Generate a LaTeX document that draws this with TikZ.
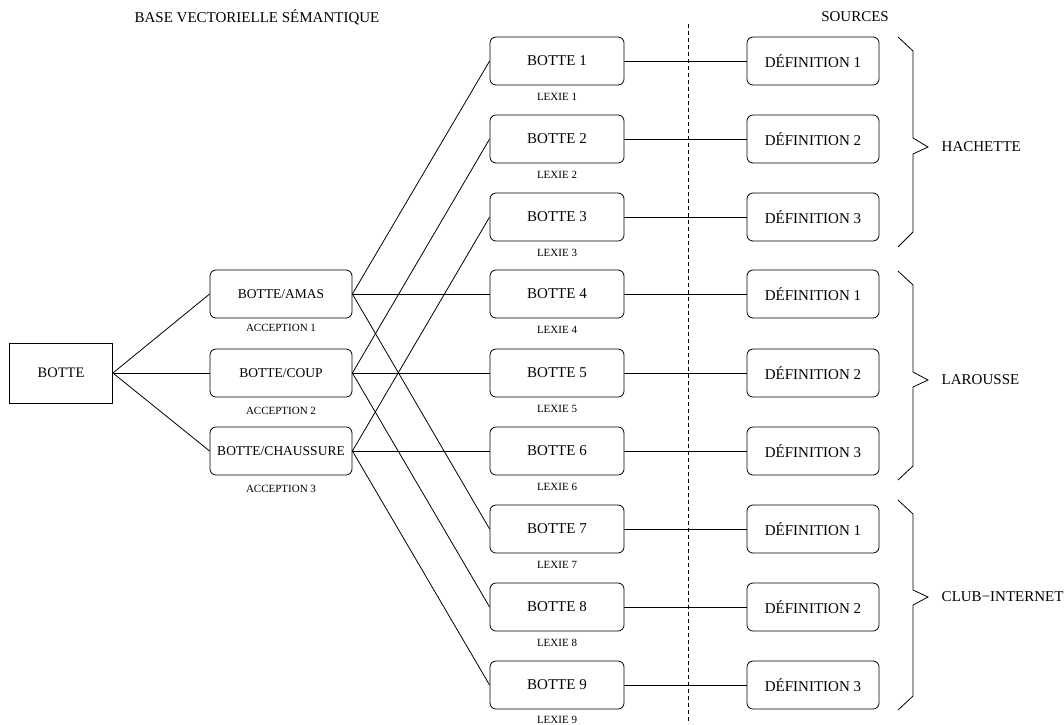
\documentclass[tikz,border=0pt]{standalone}
\usepackage{fontspec}
\setmainfont{Liberation Serif}
\usetikzlibrary{positioning}

\begin{document}
\begin{tikzpicture}[x=1pt, y=-1pt, line width=0.8pt,
	rootbox/.style={draw, minimum width=103pt, minimum height=60pt, font=\fontsize{14.5}{16}\selectfont},
	accbox/.style={draw, rounded corners=6pt, minimum width=142pt, minimum height=48pt, font=\fontsize{13.5}{15}\selectfont},
	lexbox/.style={draw, rounded corners=6pt, minimum width=134pt, minimum height=48pt, font=\fontsize{15}{17}\selectfont},
	defbox/.style={draw, rounded corners=6pt, minimum width=132pt, minimum height=48pt, font=\fontsize{15}{17}\selectfont},
	lab/.style={inner sep=2pt, font=\fontsize{11}{12}\selectfont},
	head/.style={font=\fontsize{15}{17}\selectfont},
	brace/.style={line width=0.8pt, line join=miter}]
			%%%%% START %%%%%
			\useasboundingbox (0, 0) rectangle (1064, 724);
			
			\node[head] (tbase) at (257, 17) {BASE VECTORIELLE SÉMANTIQUE};
			\node[head] (tsrc) at (855, 17) {SOURCES};
			
			\draw[dash pattern=on 4pt off 3pt] (688, 24) -- (688, 724);
			
			\node[rootbox] (botte) at (61, 373) {BOTTE};
			
			\node[accbox] (amas) at (281, 294) {BOTTE/AMAS};
			\node[lab, below=3pt of amas] (acc1) {ACCEPTION 1};
			\node[accbox] (coup) at (281, 373) {BOTTE/COUP};
			\node[lab, below=7pt of coup] (acc2) {ACCEPTION 2};
			\node[accbox] (chaus) at (281, 451) {BOTTE/CHAUSSURE};
			\node[lab, below=7pt of chaus] (acc3) {ACCEPTION 3};
			
			\node[lexbox] (b1) at (557, 61) {BOTTE 1};
			\node[lab, below=5pt of b1] (lx1) {LEXIE 1};
			\node[lexbox] (b2) at (557, 139) {BOTTE 2};
			\node[lab, below=5pt of b2] (lx2) {LEXIE 2};
			\node[lexbox] (b3) at (557, 217) {BOTTE 3};
			\node[lab, below=5pt of b3] (lx3) {LEXIE 3};
			\node[lexbox] (b4) at (557, 294) {BOTTE 4};
			\node[lab, below=5pt of b4] (lx4) {LEXIE 4};
			\node[lexbox] (b5) at (557, 373) {BOTTE 5};
			\node[lab, below=5pt of b5] (lx5) {LEXIE 5};
			\node[lexbox] (b6) at (557, 451) {BOTTE 6};
			\node[lab, below=5pt of b6] (lx6) {LEXIE 6};
			\node[lexbox] (b7) at (557, 529) {BOTTE 7};
			\node[lab, below=5pt of b7] (lx7) {LEXIE 7};
			\node[lexbox] (b8) at (557, 607) {BOTTE 8};
			\node[lab, below=5pt of b8] (lx8) {LEXIE 8};
			\node[lexbox] (b9) at (557, 685) {BOTTE 9};
			\node[lab, below=4pt of b9] (lx9) {LEXIE 9};
			
			\node[defbox] (d1) at (813, 61) {DÉFINITION 1};
			\node[defbox] (d2) at (813, 139) {DÉFINITION 2};
			\node[defbox] (d3) at (813, 217) {DÉFINITION 3};
			\node[defbox] (d4) at (813, 294) {DÉFINITION 1};
			\node[defbox] (d5) at (813, 373) {DÉFINITION 2};
			\node[defbox] (d6) at (813, 451) {DÉFINITION 3};
			\node[defbox] (d7) at (813, 529) {DÉFINITION 1};
			\node[defbox] (d8) at (813, 607) {DÉFINITION 2};
			\node[defbox] (d9) at (813, 685) {DÉFINITION 3};
			
			\draw (botte.east) -- (amas.west);
			\draw (botte.east) -- (coup.west);
			\draw (botte.east) -- (chaus.west);
			
			\draw (amas.east) -- (b1.west);
			\draw (amas.east) -- (b4.west);
			\draw (amas.east) -- (b7.west);
			\draw (coup.east) -- (b2.west);
			\draw (coup.east) -- (b5.west);
			\draw (coup.east) -- (b8.west);
			\draw (chaus.east) -- (b3.west);
			\draw (chaus.east) -- (b6.west);
			\draw (chaus.east) -- (b9.west);
			
			\draw (b1) -- (d1);
			\draw (b2) -- (d2);
			\draw (b3) -- (d3);
			\draw (b4) -- (d4);
			\draw (b5) -- (d5);
			\draw (b6) -- (d6);
			\draw (b7) -- (d7);
			\draw (b8) -- (d8);
			\draw (b9) -- (d9);
			
			\draw[brace] (898, 37) -- (913, 51) -- (913, 138) -- (928, 147) -- (913, 154) -- (913, 232) -- (898, 247);
			\node[head, anchor=west] (hach) at (938, 147) {HACHETTE};
			
			\draw[brace] (898, 271) -- (913, 285) -- (913, 372) -- (928, 380) -- (913, 387) -- (913, 466) -- (898, 480);
			\node[head, anchor=west] (laro) at (938, 380) {LAROUSSE};
			
			\draw[brace] (898, 500) -- (913, 514) -- (913, 590) -- (928, 597) -- (913, 605) -- (913, 696) -- (898, 710);
			\node[head, anchor=west] (club) at (938, 597) {CLUB−INTERNET};
			
			%%%%% END %%%%%
\end{tikzpicture}
\end{document}
